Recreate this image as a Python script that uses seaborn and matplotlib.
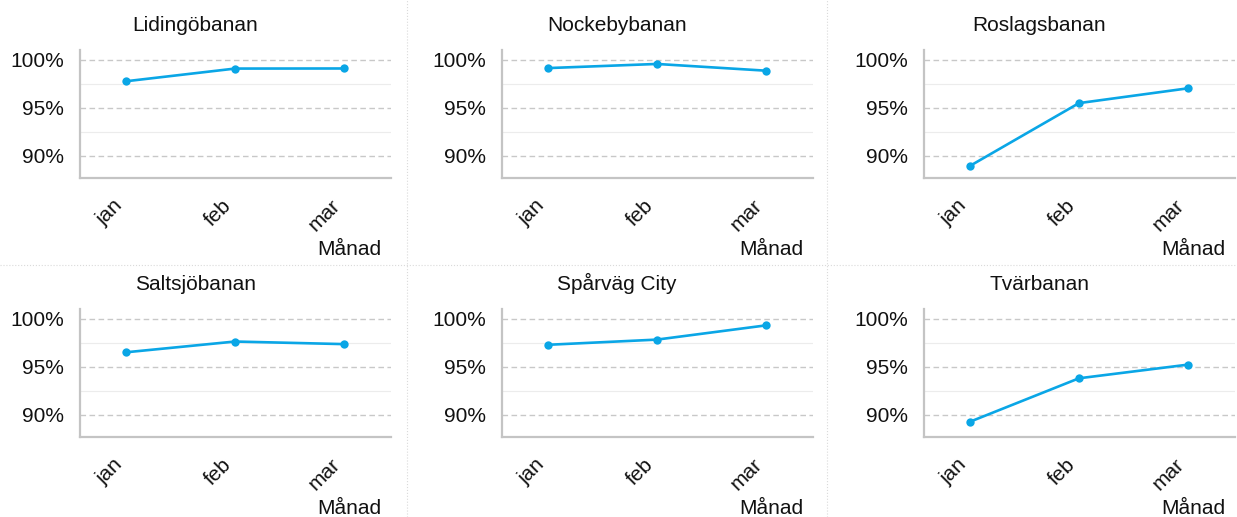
import matplotlib
matplotlib.use('Agg')
import matplotlib.pyplot as plt
from matplotlib.lines import Line2D
from matplotlib.ticker import FuncFormatter, MultipleLocator
import seaborn as sns
import pandas as pd

# Data (punctuality per month, %)
months = ['jan', 'feb', 'mar']
lines = ['Lidingöbanan', 'Nockebybanan', 'Roslagsbanan',
         'Saltsjöbanan', 'Spårväg City', 'Tvärbanan']
lidingobanan = [97.75, 99.07, 99.08]
nockebybanan = [99.12, 99.55, 98.85]
roslagsbanan = [88.95, 95.48, 97.02]
saltsjobanan = [96.50, 97.62, 97.35]
sparvag_city = [97.28, 97.82, 99.30]
tvarbanan = [89.28, 93.80, 95.22]
values = [lidingobanan, nockebybanan, roslagsbanan,
          saltsjobanan, sparvag_city, tvarbanan]

df = pd.DataFrame({
    'line': [l for l in lines for _ in months],
    'Månad': months * len(lines),
    'value': [v for vals in values for v in vals],
})

sns.set_theme(style='white')
plt.rcParams['font.family'] = ['Liberation Sans', 'DejaVu Sans']
fs = 15

fig = plt.figure(figsize=(12.37, 5.17), dpi=100)

line_color = '#0AA6E6'
spine_color = '#C4C4C4'
text_color = '#111111'
lefts = [80, 502, 924]
bottoms = [178, 437]
W, H = 1237, 517

for i, name in enumerate(lines):
    r, c = divmod(i, 3)
    ax = fig.add_axes([lefts[c] / W, 1 - bottoms[r] / H, 311 / W, 128 / H])
    sub = df[df['line'] == name]
    sns.lineplot(data=sub, x='Månad', y='value', ax=ax, color=line_color,
                 linewidth=1.9, marker='o', markersize=6,
                 markeredgewidth=0, sort=False)
    ax.set_ylim(87.7, 101.0)
    ax.set_xlim(-0.42, 2.43)
    ax.yaxis.set_major_locator(MultipleLocator(5))
    ax.yaxis.set_minor_locator(MultipleLocator(2.5))
    ax.yaxis.set_major_formatter(FuncFormatter(lambda v, p: f'{v:.0f}%'))
    ax.grid(True, which='major', axis='y', color='#C8C8C8',
            linestyle=(0, (4, 2.5)), linewidth=1.0)
    ax.grid(True, which='minor', axis='y', color='#ECECEC',
            linestyle='-', linewidth=0.8)
    ax.set_axisbelow(True)
    for s in ['top', 'right']:
        ax.spines[s].set_visible(False)
    for s in ['left', 'bottom']:
        ax.spines[s].set_color(spine_color)
        ax.spines[s].set_linewidth(1.6)
    ax.tick_params(axis='y', which='both', length=0, pad=11.5, labelsize=fs,
                   colors=text_color)
    ax.tick_params(axis='x', length=0, pad=13, labelsize=fs, colors=text_color)
    for lab in ax.get_xticklabels():
        lab.set_rotation(45)
        lab.set_ha('right')
    ax.set_ylabel('')
    ax.set_xlabel('')
    ax.text(0.37, 1.15, name, transform=ax.transAxes, ha='center',
            va='baseline', fontsize=fs, color=text_color)
    ax.text(0.97, -0.6, 'Månad', transform=ax.transAxes, ha='right',
            va='baseline', fontsize=fs, color=text_color)

# faint dotted separators between panels
sep = dict(color='#DADADA', linestyle=':', linewidth=0.8)
fig.add_artist(Line2D([407 / W, 407 / W], [0, 1], transform=fig.transFigure, **sep))
fig.add_artist(Line2D([827 / W, 827 / W], [0, 1], transform=fig.transFigure, **sep))
fig.add_artist(Line2D([0, 1], [1 - 265 / H, 1 - 265 / H], transform=fig.transFigure, **sep))

fig.savefig('out.png', dpi=100, facecolor='white')
